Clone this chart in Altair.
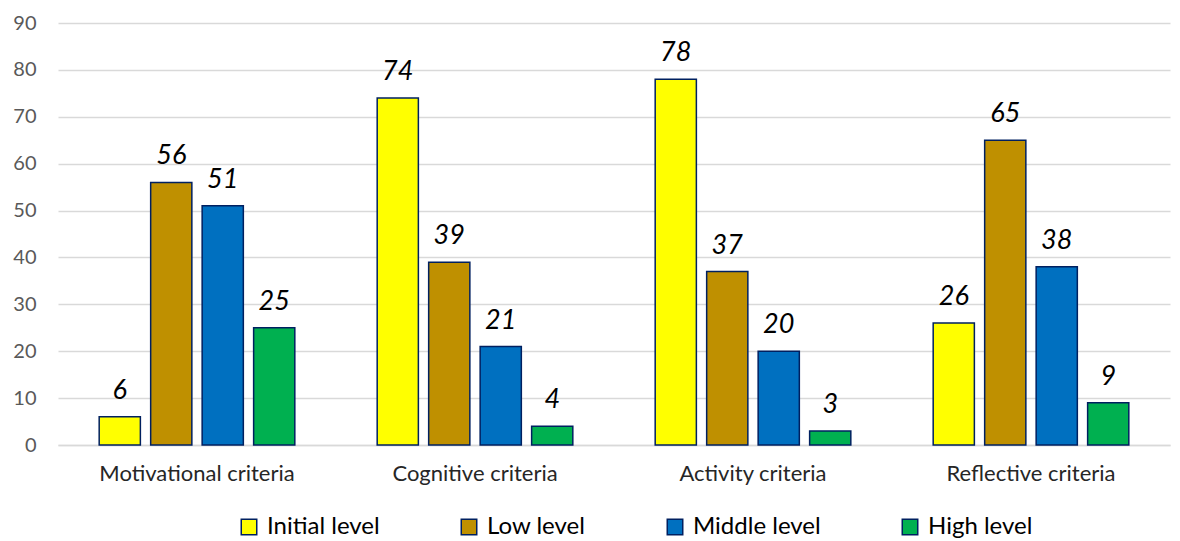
import altair as alt
import pandas as pd

criteria = ["Motivational criteria", "Cognitive criteria", "Activity criteria", "Reflective criteria"]
levels = ["Initial level", "Low level", "Middle level", "High level"]
initial = [6, 74, 78, 26]
low = [56, 39, 37, 65]
middle = [51, 21, 20, 38]
high = [25, 4, 3, 9]
colors = ["#FFFF00", "#BF9000", "#0070C0", "#00B050"]

rows = []
for i, c in enumerate(criteria):
    for lvl, series in zip(levels, [initial, low, middle, high]):
        rows.append({"criteria": c, "level": lvl, "value": series[i]})
df = pd.DataFrame(rows)

FONT = "Lato"

x = alt.X("criteria:N", sort=criteria, title=None,
          scale=alt.Scale(paddingInner=0, paddingOuter=0),
          axis=alt.Axis(labelAngle=0, labelFontSize=22, labelColor="#262626", labelFont=FONT,
                        ticks=False, domain=True, domainColor="#d9d9d9", domainWidth=1.5,
                        labelPadding=18, labelLimit=400))
xo = alt.XOffset("level:N", sort=levels,
                 scale=alt.Scale(paddingInner=0.2, paddingOuter=0.8))
y = alt.Y("value:Q", title=None,
          scale=alt.Scale(domain=[0, 90], nice=False),
          axis=alt.Axis(values=list(range(0, 91, 10)), labelFontSize=20, labelColor="#595959",
                        labelFont=FONT, ticks=False, domain=False, gridColor="#d9d9d9",
                        gridWidth=1.5, labelPadding=22))

bars = alt.Chart(df).mark_bar(stroke="#002060", strokeWidth=1.5).encode(
    x=x, xOffset=xo, y=y,
    color=alt.Color("level:N", sort=levels,
                    scale=alt.Scale(domain=levels, range=colors),
                    legend=alt.Legend(title=None, orient="none", legendX=179, legendY=492,
                                      direction="horizontal", columns=4, gridAlign="none",
                                      symbolType="square", symbolSize=240,
                                      symbolStrokeColor="#002060", symbolStrokeWidth=1.5,
                                      labelFontSize=24, labelFont=FONT, labelColor="#000000",
                                      columnPadding=77, labelOffset=6, labelLimit=300)),
)

labels = alt.Chart(df).mark_text(fontStyle="italic", fontSize=27, font=FONT, color="#000000",
                                 baseline="alphabetic", dy=-18).encode(
    x=alt.X("criteria:N", sort=criteria), xOffset=alt.XOffset("level:N", sort=levels), y="value:Q",
    text="value:Q",
)

chart = (bars + labels).properties(
    width=1112, height=422,
    background="white",
    autosize=alt.AutoSizeParams(type="none"),
    padding={"left": 58, "top": 23, "right": 10, "bottom": 96},
).configure_view(stroke=None)

chart.save("out.html", embed_options={"renderer": "svg", "actions": False})
